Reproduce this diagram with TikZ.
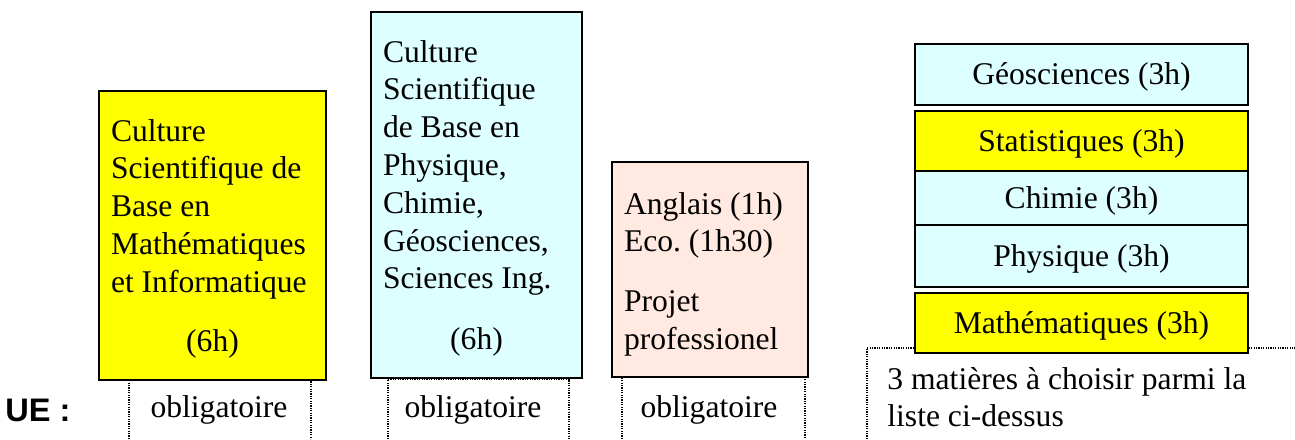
\documentclass[tikz,border=0pt]{standalone}
\usepackage{fontspec}
\setmainfont{Liberation Serif}[Ligatures=CommonOff]
\setsansfont{Liberation Sans}
\usetikzlibrary{positioning}
\definecolor{jaune}{RGB}{255,255,0}
\definecolor{cyanpale}{RGB}{221,255,255}
\definecolor{rose}{RGB}{255,233,225}
\frenchspacing

\begin{document}
\begin{tikzpicture}[x=0.5pt,y=-0.5pt,
    font=\fontsize{15.8}{18.9}\selectfont,
    ubox/.style={draw,line width=1pt,outer sep=0pt,inner ysep=0pt,inner xsep=6pt,anchor=north west},
    opt/.style={draw,line width=1pt,outer sep=0pt,inner sep=0pt,minimum width=166.5pt,text height=10.4pt,text depth=0pt},
    cell/.style={line width=0.6pt,dash pattern=on 0.6pt off 0.6pt},
    note/.style={anchor=base,inner sep=0pt}]
    \useasboundingbox (0,0) rectangle (1295,439);

    \draw[cell] (129,439) -- (129,380) -- (311,380) -- (311,439);
    \draw[cell] (388,439) -- (388,379) -- (569,379) -- (569,439);
    \draw[cell] (622,439) -- (622,377) -- (805,377) -- (805,439);
    \draw[cell] (867,439) -- (867,348) -- (1295,348);

    \node[ubox,fill=jaune,text height=25pt,text depth=119.5pt] (mi) at (99,91)
      {\parbox[t]{101.5pt}{\raggedright Culture\\Scientifique de\\Base en\\Mathématiques\\et Informatique\\[10.5pt]\hspace*{\fill}(6h)\hspace*{\fill}}};
    \node[ubox,fill=cyanpale,text height=25pt,text depth=158pt] (pc) at (371,12)
      {\parbox[t]{93.5pt}{\raggedright Culture\\Scientifique\\de Base en\\Physique,\\Chimie,\\Géosciences,\\Sciences Ing.\\[11.5pt]\hspace*{\fill}(6h)\hspace*{\fill}}};
    \node[ubox,fill=rose,text height=26pt,text depth=81.5pt] (ang) at (612,162)
      {\parbox[t]{86pt}{\raggedright Anglais (1h)\\Eco. (1h30)\\[11pt]Projet\\professionel}};

    \node[opt,fill=cyanpale,minimum height=30.5pt,anchor=north west] (geo) at (915,44) {Géosciences (3h)};
    \node[opt,fill=jaune,minimum height=30pt,below=3pt of geo] (stat) {Statistiques (3h)};
    \node[opt,fill=cyanpale,minimum height=27pt,below=0pt of stat] (chim) {Chimie (3h)};
    \node[opt,fill=cyanpale,minimum height=31pt,below=0pt of chim] (phys) {Physique (3h)};
    \node[opt,fill=jaune,minimum height=30pt,below=3pt of phys] (math) {Mathématiques (3h)};

    \node[anchor=base west,inner sep=0pt,font=\sffamily\bfseries\fontsize{16.3}{19}\selectfont] (ue) at (5,421) {UE :};
    \node[note] (ob1) at (219,417) {obligatoire};
    \node[note] (ob2) at (473,417) {obligatoire};
    \node[note] (ob3) at (709,417) {obligatoire};
    \node[anchor=base west,inner sep=0pt] (choix) at (887,389)
      {\parbox[t]{200pt}{3 matières à choisir parmi la\\liste ci-dessus}};
  \end{tikzpicture}
\end{document}
